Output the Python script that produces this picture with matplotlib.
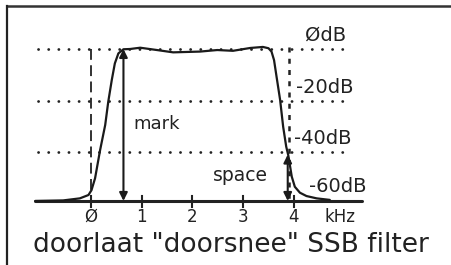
import matplotlib
matplotlib.use("Agg")
import matplotlib.pyplot as plt
from matplotlib.lines import Line2D

# ---- data ----
freq_khz = [-1.10, -0.55, -0.22, -0.05, 0.01, 0.08, 0.18, 0.28, 0.34, 0.41,
            0.47, 0.54, 0.64, 0.77, 0.97, 1.30, 1.62, 2.15, 2.49, 2.80,
            3.14, 3.39, 3.50, 3.56, 3.61, 3.66, 3.73, 3.79, 3.85, 3.89,
            3.96, 4.02, 4.12, 4.25, 4.45, 4.71]
response_db = [-59.0, -58.8, -58.0, -56.7, -54.8, -50.2, -39.2, -29.5, -20.5, -12.0,
               -5.6, -1.7, -0.1, 0.0, 0.5, -0.4, -1.3, -1.0, -0.4, -0.7,
               0.4, 0.8, 0.3, -1.0, -4.3, -10.8, -19.8, -30.2, -37.9, -41.2,
               -49.6, -53.5, -55.8, -57.1, -58.0, -58.6]
x_ticks = [0, 1, 2, 3, 4]
x_tick_labels = ["Ø", "1", "2", "3", "4"]
db_levels = [0, -20, -40]
db_labels = ["ØdB", "-20dB", "-40dB", "-60dB"]
baseline_db = -59.0
mark_khz = 0.64
space_khz = 3.88
space_top_db = -41
title = 'doorlaat "doorsnee" SSB filter'

ink = "#222222"

fig = plt.figure(figsize=(4.52, 2.65), dpi=100)
ax = fig.add_axes([0, 0, 1, 1])
ax.set_xlim(-1.795, 7.12)
ax.set_ylim(-83.88, 19.03)
ax.axis("off")

# frame (top and left only)
fig.add_artist(Line2D([7/452, 1.0], [1 - 6/265, 1 - 6/265], color="#333333", lw=1.8,
                      transform=fig.transFigure))
fig.add_artist(Line2D([7/452, 7/452], [0, 1 - 6/265], color=ink, lw=1.6,
                      transform=fig.transFigure))

# dotted level lines
for lvl in db_levels:
    ax.plot([-1.05, 5.05], [lvl, lvl], color=ink, lw=2.0,
            linestyle=(0, (0.05, 3.6)), dash_capstyle="round")

# vertical dashed markers
ax.plot([0, 0], [0, baseline_db], color=ink, lw=1.3, linestyle=(0, (6, 3)))
ax.plot([3.91, 3.91], [0.7, baseline_db], color=ink, lw=1.8, linestyle=(0, (2, 2.5)))

# baseline (frequency axis)
ax.plot([-1.10, 5.35], [baseline_db, baseline_db], color=ink, lw=2.2,
        solid_capstyle="round")
for t, lab in zip(x_ticks, x_tick_labels):
    ax.plot([t, t], [baseline_db + 2.0, baseline_db - 2.5], color=ink, lw=1.5)
    ax.text(t, -65.2, lab, ha="center", va="center", fontsize=12, color=ink)
ax.text(4.91, -65.2, "kHz", ha="center", va="center", fontsize=12, color=ink)

# filter response
ax.plot(freq_khz, response_db, color="#1a1a1a", lw=1.6, solid_capstyle="round",
        solid_joinstyle="round")

# arrows
arrow = dict(arrowstyle="<|-|>", color="#1a1a1a", lw=1.5, mutation_scale=12,
             shrinkA=0, shrinkB=0)
ax.annotate("", xy=(mark_khz, 0), xytext=(mark_khz, baseline_db), arrowprops=arrow)
ax.annotate("", xy=(space_khz, space_top_db), xytext=(space_khz, baseline_db),
            arrowprops=arrow)

# texts
ax.text(0.83, -29.1, "mark", ha="left", va="center", fontsize=13, color=ink)
ax.text(2.41, -49.3, "space", ha="left", va="center", fontsize=13.5, color=ink)
ax.text(4.63, 5.4, db_labels[0], ha="center", va="center", fontsize=14, color=ink)
ax.text(4.05, -15.1, db_labels[1], ha="left", va="center", fontsize=14, color=ink)
ax.text(4.01, -34.8, db_labels[2], ha="left", va="center", fontsize=14, color=ink)
ax.text(4.30, -53.4, db_labels[3], ha="left", va="center", fontsize=14, color=ink)
ax.text(2.76, -76.1, title, ha="center", va="center", fontsize=19, color=ink)

fig.savefig("out.png", dpi=100)
